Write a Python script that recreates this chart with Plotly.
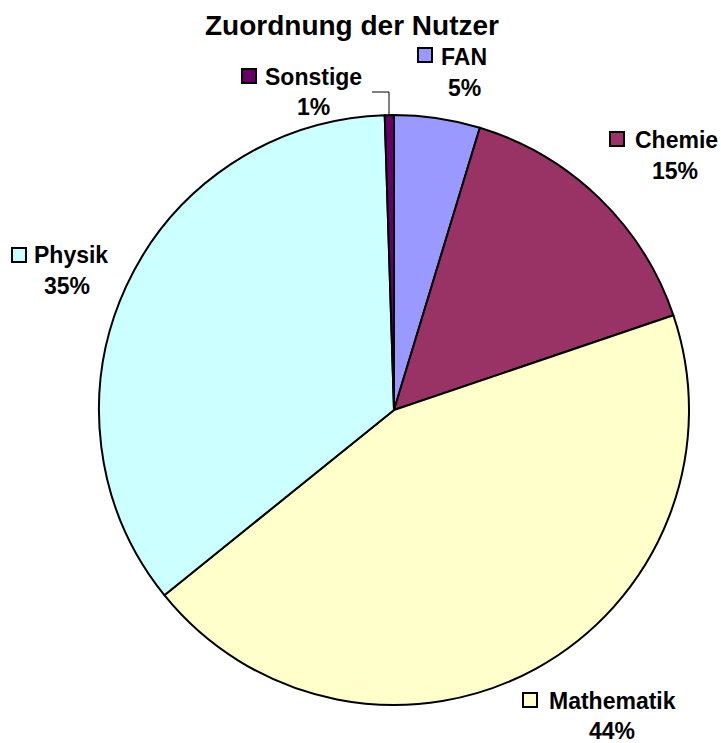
import plotly.graph_objects as go

# ---- data ----
labels = ["FAN", "Chemie", "Mathematik", "Physik", "Sonstige"]
values = [4.7, 15.1, 44.4, 35.3, 0.5]
colors = ["#9999FF", "#993366", "#FFFFCC", "#CCFFFF", "#660066"]
title_text = "Zuordnung der Nutzer"

W, H = 721, 743
FONT = "Arial, Liberation Sans, sans-serif"
LABEL_SIZE = 23

def px(x):
    return x / W

def py(y):
    return 1 - y / H

# pie placement (pixels): center and radius
cx, cy, r = 394, 410, 295

fig = go.Figure(go.Pie(
    labels=labels,
    values=values,
    marker=dict(colors=colors, line=dict(color="black", width=2)),
    sort=False,
    direction="clockwise",
    rotation=0,
    textinfo="none",
    hoverinfo="label+percent",
    showlegend=False,
    domain=dict(x=[px(cx - r), px(cx + r)], y=[py(cy + r), py(cy - r)]),
))

# label layout (pixel positions): name center, pct center, key square top-left
label_pos = {
    "FAN":        dict(name=(464, 57), pct=(464, 88), key=(418, 48)),
    "Chemie":     dict(name=(676, 140), pct=(675, 171), key=(610, 132)),
    "Mathematik": dict(name=(612, 701), pct=(612, 731), key=(523, 693)),
    "Physik":     dict(name=(71, 255), pct=(67, 286), key=(12, 248)),
    "Sonstige":   dict(name=(313, 77), pct=(313, 107), key=(242, 69)),
}

total = sum(values)
annotations = []
shapes = []
KEY = 14
for lab, val, col in zip(labels, values, colors):
    pos = label_pos[lab]
    pct = int(val / total * 100 + 0.5)
    nx, ny = pos["name"]
    annotations.append(dict(
        x=px(nx), y=py(ny), xref="paper", yref="paper",
        text=lab, showarrow=False, xanchor="center", yanchor="middle",
        font=dict(family=FONT, size=LABEL_SIZE, color="black", weight="bold"),
    ))
    qx, qy = pos["pct"]
    annotations.append(dict(
        x=px(qx), y=py(qy), xref="paper", yref="paper",
        text=f"{pct}%", showarrow=False, xanchor="center", yanchor="middle",
        font=dict(family=FONT, size=LABEL_SIZE, color="black", weight="bold"),
    ))
    kx, ky = pos["key"]
    shapes.append(dict(
        type="rect", xref="paper", yref="paper",
        x0=px(kx), x1=px(kx + KEY), y0=py(ky + KEY), y1=py(ky),
        fillcolor=col, line=dict(color="black", width=2),
    ))

# leader line for the tiny "Sonstige" slice
shapes.append(dict(
    type="path", xref="paper", yref="paper",
    path=f"M {px(372)},{py(92)} L {px(389)},{py(92)} L {px(389)},{py(116)}",
    line=dict(color="black", width=1),
))

annotations.append(dict(
    x=px(352), y=py(25), xref="paper", yref="paper",
    text=title_text, showarrow=False, xanchor="center", yanchor="middle",
    font=dict(family=FONT, size=28, color="black", weight="bold"),
))

fig.update_layout(
    width=W, height=H,
    margin=dict(l=0, r=0, t=0, b=0),
    paper_bgcolor="white",
    plot_bgcolor="white",
    annotations=annotations,
    shapes=shapes,
)

fig.write_html(
    "out.html",
    config=dict(displayModeBar=False),
    post_script="document.body.style.margin='0';document.body.style.overflow='hidden';",
)
